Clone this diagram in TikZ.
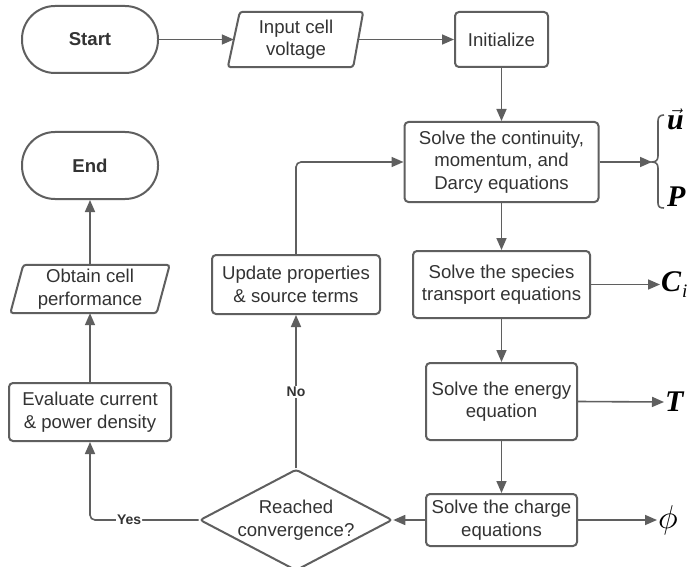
\documentclass[tikz,border=0pt]{standalone}
\usepackage{fontspec}
\setmainfont{Liberation Sans}
\newfontfamily\serfont{Liberation Serif}
\usetikzlibrary{arrows.meta,shapes.geometric}
\definecolor{edgec}{HTML}{5F5F5F}
\definecolor{textc}{HTML}{333333}
\tikzset{
  boxline/.style={draw=edgec, line width=2pt},
  procbox/.style={boxline, rectangle, rounded corners=4pt, align=center, text=textc, inner sep=0pt,
     font=\fontsize{18.6}{22.5}\selectfont},
  termbox/.style={boxline, rectangle, rounded corners=33pt, text=textc, inner sep=0pt,
     minimum width=136pt, minimum height=67pt, font=\fontsize{18.6}{22.5}\selectfont\bfseries},
  parabox/.style={rectangle, align=center, text=textc, inner sep=0pt,
     font=\fontsize{18.6}{22.5}\selectfont},
  decbox/.style={boxline, diamond, aspect=1.9, rounded corners=3pt, align=center, text=textc, inner sep=0pt,
     minimum width=178pt, minimum height=93pt, font=\fontsize{18.6}{22.5}\selectfont},
  conn/.style={draw=edgec, line width=1.6pt, -{Triangle[length=12pt,width=10pt]}},
  lbl/.style={fill=white, text=textc, inner sep=1pt, font=\fontsize{14}{14}\selectfont\bfseries},
  symb/.style={text=black, inner sep=1pt, anchor=west, font=\fontsize{30}{30}\selectfont\serfont\bfseries\itshape}
}
\begin{document}
\begin{tikzpicture}[x=1pt,y=-1pt]
\useasboundingbox[fill=white] (0,0) rectangle (691,567);

% nodes
\node[termbox] (start) at (90,39.5) {Start};
\node[parabox, minimum width=124pt, minimum height=55pt] (input) at (296,39.5) {Input cell\\voltage};
\draw[boxline, rounded corners=3pt] ([xshift=6pt]input.north west) -- ([xshift=5pt]input.north east)
   -- ([xshift=-5pt]input.south east) -- ([xshift=-6pt]input.south west) -- cycle;
\node[procbox, minimum width=93pt, minimum height=55pt] (init) at (501.5,39.5) {Initialize};
\node[procbox, minimum width=194pt, minimum height=80pt] (cont) at (501.5,162) {Solve the continuity,\\momentum, and\\Darcy equations};
\node[procbox, minimum width=177pt, minimum height=67pt] (species) at (501.5,284.5) {Solve the species\\transport equations};
\node[procbox, minimum width=151pt, minimum height=77pt] (energy) at (501.5,401.5) {Solve the energy\\equation};
\node[procbox, minimum width=151pt, minimum height=52pt] (charge) at (501.5,520) {Solve the charge\\equations};
\node[decbox] (conv) at (296,520) {Reached\\convergence?};
\node[procbox, minimum width=168pt, minimum height=59pt] (update) at (296,284.5) {Update properties\\\& source terms};
\node[procbox, minimum width=162pt, minimum height=58pt] (eval) at (90,412) {Evaluate current\\\& power density};
\node[parabox, minimum width=146pt, minimum height=48pt] (obtain) at (90,289) {Obtain cell\\performance};
\draw[boxline, rounded corners=3pt] ([xshift=6.5pt]obtain.north west) -- ([xshift=6.5pt]obtain.north east)
   -- ([xshift=-6.5pt]obtain.south east) -- ([xshift=-6.5pt]obtain.south west) -- cycle;
\node[termbox] (end) at (90,165.5) {End};

% output symbols
\coordinate (bracetip) at (652,162);
\node[symb] (u) at (666,119) {$\vec{\mbox{\serfont\bfseries\itshape u}}$};
\node[symb] (p) at (666,197) {P};
\node[symb] (ci) at (660,284.5) {C\kern1pt\raisebox{-6pt}{\fontsize{19}{19}\selectfont\mdseries i}};
\node[symb] (t) at (664,402) {T};
\node[symb, font=\fontsize{10}{10}\selectfont] (phi) at (657,520) {\scalebox{3.3}{$\phi$}};

% brace
\draw[draw=edgec, line width=1.6pt] (664,115) .. controls (660,115) and (658,117) .. (658,121)
   -- (658,156) .. controls (658,160) and (656,162) .. (652,162)
   .. controls (656,162) and (658,164) .. (658,168)
   -- (658,203) .. controls (658,207) and (660,208) .. (664,208);

% connectors
\draw[conn] (start) -- (input);
\draw[conn] (input) -- (init);
\draw[conn] (init) -- (cont);
\draw[conn] (cont) -- (species);
\draw[conn] (species) -- (energy);
\draw[conn] (energy) -- (charge);
\draw[conn] (charge) -- (conv);
\draw[conn] (cont.east) -- (bracetip);
\draw[conn] (species.east) -- (ci.west);
\draw[conn] (energy.east) -- (t.west);
\draw[conn] (charge.east) -- (phi.west);
\draw[conn] (conv.north) -- node[lbl, pos=0.5] {No} (update.south);
\draw[conn, rounded corners=5pt] (update.north) |- (cont.west);
\draw[conn, rounded corners=5pt] (conv.west) -| node[lbl, pos=0.32] {Yes} (eval.south);
\draw[conn] (eval) -- (obtain);
\draw[conn] (obtain) -- (end);
\end{tikzpicture}
\end{document}
